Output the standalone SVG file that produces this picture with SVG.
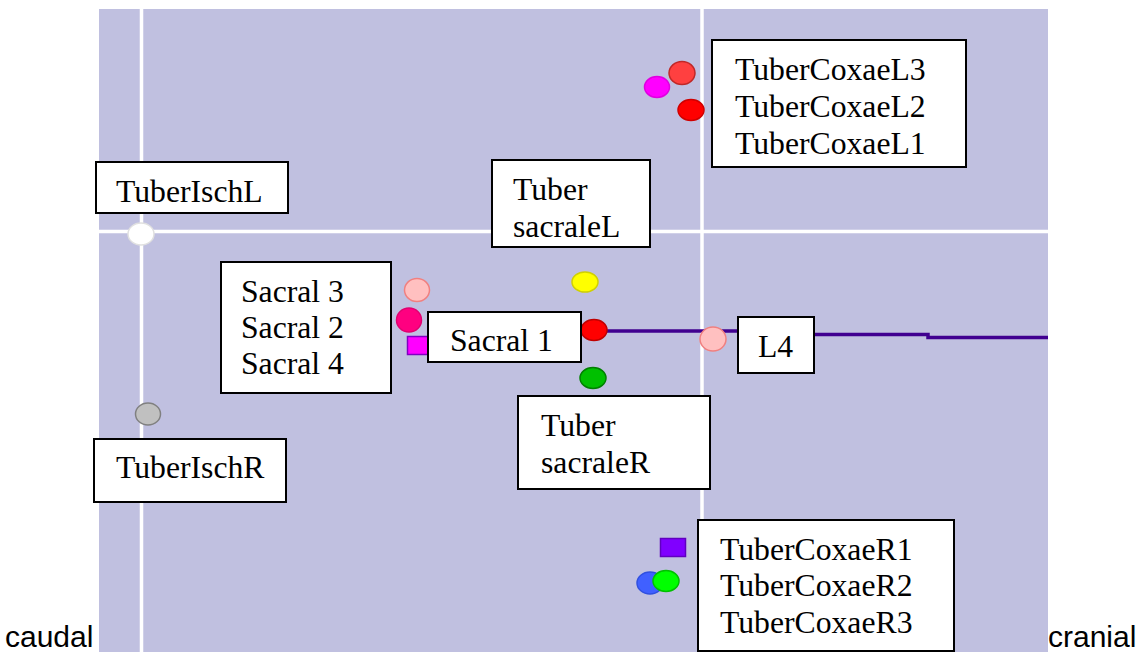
<svg xmlns="http://www.w3.org/2000/svg" width="1140" height="652" viewBox="0 0 1140 652">
<style>
.box{fill:#ffffff;stroke:#000000;stroke-width:2}
.lbl{font-family:"Liberation Serif","Times New Roman",serif;font-size:31.7px;fill:#000}
.ax{font-family:"Liberation Sans",Arial,sans-serif;font-size:30px;fill:#000}
.grid{stroke:#ffffff;stroke-width:3.5;fill:none}
.dot{stroke-width:1.5}
</style>
<rect x="0" y="0" width="1140" height="652" fill="#ffffff"/>
<rect id="plot" x="99" y="9" width="949" height="643" fill="#C0C0E0"/>
<g id="gridlines">
<line class="grid" x1="141.5" y1="9" x2="141.5" y2="652"/>
<line class="grid" x1="702" y1="9" x2="702" y2="652"/>
<line class="grid" x1="99" y1="231.5" x2="1048" y2="231.5"/>
</g>
<g id="connectors">
<polyline points="600,331 760,331 760,334.5 928,334.5 928,337.5 1048,337.5" fill="none" stroke="#400090" stroke-width="3.5"/>
</g>
<g id="dots">
<ellipse class="dot" cx="682" cy="73" rx="13" ry="11.5" fill="#ff4040" stroke="#c02828"/>
<ellipse class="dot" cx="657" cy="87" rx="12.5" ry="10.5" fill="#ff00ff" stroke="#e000e0"/>
<ellipse class="dot" cx="691" cy="110" rx="13" ry="10.5" fill="#ff0000" stroke="#d00000"/>
<ellipse class="dot" cx="141" cy="234" rx="13" ry="11" fill="#ffffff" stroke="#e0e0e0"/>
<ellipse class="dot" cx="148" cy="414" rx="12.5" ry="11" fill="#c0c0c0" stroke="#808080"/>
<ellipse class="dot" cx="417" cy="290" rx="12.5" ry="11.5" fill="#ffc0c0" stroke="#f08080"/>
<ellipse class="dot" cx="409" cy="320" rx="12.5" ry="12" fill="#ff0080" stroke="#e00070"/>
<rect class="dot" x="407.5" y="336.5" width="24" height="18" fill="#ff00ff" stroke="#8000c0"/>
<ellipse class="dot" cx="585" cy="282" rx="13" ry="10" fill="#ffff00" stroke="#d0d000"/>
<ellipse class="dot" cx="594" cy="330" rx="13" ry="10.5" fill="#ff0000" stroke="#c00000"/>
<ellipse class="dot" cx="593" cy="378" rx="13" ry="10.5" fill="#00c000" stroke="#008000"/>
<ellipse class="dot" cx="713" cy="339" rx="13" ry="12" fill="#ffc0c0" stroke="#f08080"/>
<rect class="dot" x="660.5" y="538.5" width="25" height="18" fill="#8000ff" stroke="#6000c0"/>
<ellipse class="dot" cx="650" cy="583" rx="13" ry="11" fill="#4060ff" stroke="#3050e0"/>
<ellipse class="dot" cx="666" cy="581" rx="13" ry="10.5" fill="#00ff00" stroke="#00c000"/>
</g>
<g id="node-tubercoxaeL">
<rect class="box" x="712" y="40" width="254" height="127"/>
<text class="lbl" x="735" y="80">TuberCoxaeL3</text>
<text class="lbl" x="735" y="117">TuberCoxaeL2</text>
<text class="lbl" x="735" y="154">TuberCoxaeL1</text>
</g>
<g id="node-tuberischL">
<rect class="box" x="96" y="162" width="192" height="51"/>
<text class="lbl" x="116" y="202">TuberIschL</text>
</g>
<g id="node-tubersacraleL">
<rect class="box" x="492" y="160" width="158" height="87"/>
<text class="lbl" x="513" y="200">Tuber</text>
<text class="lbl" x="513" y="237">sacraleL</text>
</g>
<g id="node-sacral">
<rect class="box" x="221" y="262" width="170" height="131"/>
<text class="lbl" x="241" y="302">Sacral 3</text>
<text class="lbl" x="241" y="338">Sacral 2</text>
<text class="lbl" x="241" y="374">Sacral 4</text>
</g>
<g id="node-sacral1">
<rect class="box" x="428" y="312" width="153" height="50"/>
<text class="lbl" x="450" y="351">Sacral 1</text>
</g>
<g id="node-L4">
<rect class="box" x="738" y="317" width="76" height="56"/>
<text class="lbl" x="758" y="357">L4</text>
</g>
<g id="node-tubersacraleR">
<rect class="box" x="518" y="396" width="192" height="93"/>
<text class="lbl" x="541" y="436">Tuber</text>
<text class="lbl" x="541" y="473">sacraleR</text>
</g>
<g id="node-tuberischR">
<rect class="box" x="94" y="439" width="192" height="63"/>
<text class="lbl" x="116" y="478">TuberIschR</text>
</g>
<g id="node-tubercoxaeR">
<rect class="box" x="698" y="520" width="256" height="131"/>
<text class="lbl" x="720" y="560">TuberCoxaeR1</text>
<text class="lbl" x="720" y="596">TuberCoxaeR2</text>
<text class="lbl" x="720" y="633">TuberCoxaeR3</text>
</g>
<text class="ax" x="5" y="647">caudal</text>
<text class="ax" x="1048" y="647">cranial</text>
</svg>
